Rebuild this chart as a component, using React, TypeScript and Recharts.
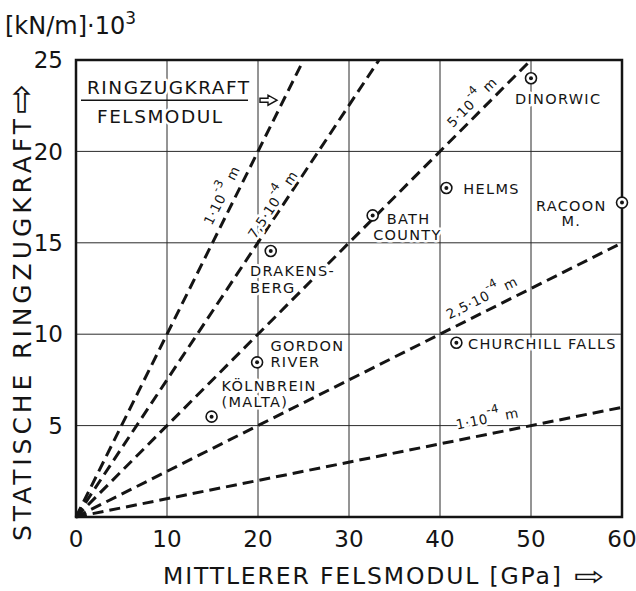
import React from 'react';
import {
  ComposedChart, XAxis, YAxis, CartesianGrid, Scatter, ReferenceLine,
  ReferenceArea, ReferenceDot, Label,
} from 'recharts';

// ---------- data ----------
const xTicks = [0, 10, 20, 30, 40, 50, 60];
const yTicks = [5, 10, 15, 20, 25];

// ratio lines (Ringzugkraft / Felsmodul), drawn from origin to their end point
const ratioMantissa = ['1·10', '7,5·10', '5·10', '2,5·10', '1·10'];
const ratioExponent = ['-3', '-4', '-4', '-4', '-4'];
const ratioEndX = [25, 33.3, 50, 60, 60];
const ratioEndY = [25, 25, 25, 15, 6];

// power stations
const stationNames = ['DINORWIC', 'HELMS', 'BATH COUNTY', 'DRAKENSBERG', 'GORDON RIVER', 'KÖLNBREIN', 'RACOON M.', 'CHURCHILL FALLS'];
const stationModulus = [50, 40.7, 32.6, 21.4, 19.9, 14.9, 60, 41.8];
const stationForce = [24, 18, 16.5, 14.55, 8.46, 5.49, 17.2, 9.53];

// ---------- layout (styles / positions of annotations) ----------
const FONT = "'DejaVu Sans', sans-serif";
const INK = '#141414';

const ratioLabelPos = [
  { x: 16.0, y: 17.6, angle: -63.5 },
  { x: 21.6, y: 17.1, angle: -56.4 },
  { x: 43.5, y: 22.7, angle: -45.1 },
  { x: 44.6, y: 12.0, angle: -26.7 },
  { x: 45.2, y: 5.4, angle: -11.3 },
];

type LabelLine = { text: string; dx: number; dy: number; anchor?: 'start' | 'middle' | 'end' };
const stationLabelLayout: Record<string, LabelLine[]> = {
  'DINORWIC': [{ text: 'DINORWIC', dx: -16, dy: 26 }],
  'HELMS': [{ text: 'HELMS', dx: 17, dy: 6 }],
  'BATH COUNTY': [{ text: 'BATH', dx: 14, dy: 8.5 }, { text: 'COUNTY', dx: 0.5, dy: 24.5 }],
  'DRAKENSBERG': [{ text: 'DRAKENS-', dx: -20.7, dy: 25 }, { text: 'BERG', dx: -20.7, dy: 41.7 }],
  'GORDON RIVER': [{ text: 'GORDON', dx: 13.4, dy: -11.6 }, { text: 'RIVER', dx: 13.4, dy: 4.4 }],
  'KÖLNBREIN': [{ text: 'KÖLNBREIN', dx: 10, dy: -26 }, { text: '(MALTA)', dx: 10, dy: -10 }],
  'RACOON M.': [{ text: 'RACOON', dx: -50.7, dy: 8.4, anchor: 'middle' }, { text: 'M.', dx: -50.7, dy: 23.4, anchor: 'middle' }],
  'CHURCHILL FALLS': [{ text: 'CHURCHILL FALLS', dx: 11.6, dy: 6.3 }],
};

const stations = stationNames.map((name, i) => ({ name, x: stationModulus[i], y: stationForce[i] }));

const maskText = { stroke: '#fff', strokeWidth: 5, paintOrder: 'stroke' as const, strokeLinejoin: 'round' as const };

const StationShape = (props: any) => {
  const { cx, cy, payload } = props;
  const lines = stationLabelLayout[payload.name] || [];
  return (
    <g>
      {lines.map((l, i) => (
        <text key={i} x={cx + l.dx} y={cy + l.dy} textAnchor={l.anchor || 'start'}
          fontFamily={FONT} fontSize={14.5} letterSpacing={1.3} fill={INK} {...maskText}>
          {l.text}
        </text>
      ))}
      <circle cx={cx} cy={cy} r={5.5} fill="#fff" stroke={INK} strokeWidth={1.6} />
      <circle cx={cx} cy={cy} r={2} fill={INK} />
    </g>
  );
};

const ratioLabelShape = (i: number) => (props: any) => {
  const { cx, cy } = props;
  const a = ratioLabelPos[i].angle;
  return (
    <g transform={`rotate(${a}, ${cx}, ${cy})`}>
      <text x={cx} y={cy + 5} textAnchor="middle" fontFamily={FONT} fontSize={13.5}
        letterSpacing={0.6} fill={INK} {...maskText}>
        {ratioMantissa[i]}
        <tspan dy={-9} fontSize={11.5}>{ratioExponent[i]}</tspan>
        <tspan dy={9} fontSize={13.5}>{'  m'}</tspan>
      </text>
    </g>
  );
};

const RatioBox = (props: any) => {
  const { cx, cy } = props;
  return (
    <g>
      <text x={cx + 6} y={cy - 6} fontFamily={FONT} fontSize={18.5} letterSpacing={1.5} fill={INK} {...maskText}>RINGZUGKRAFT</text>
      <line x1={cx} y1={cy} x2={cx + 167} y2={cy} stroke={INK} strokeWidth={1.4} />
      <text x={cx + 16} y={cy + 23} fontFamily={FONT} fontSize={18.5} letterSpacing={1.5} fill={INK} {...maskText}>FELSMODUL</text>
      <path d={`M ${cx + 179} ${cy - 2} L ${cx + 187} ${cy - 2} L ${cx + 187} ${cy - 5} L ${cx + 196} ${cy} L ${cx + 187} ${cy + 5} L ${cx + 187} ${cy + 2} L ${cx + 179} ${cy + 2} Z`}
        fill="#fff" stroke={INK} strokeWidth={1.4} />
    </g>
  );
};

const XTitle = (props: any) => {
  const { viewBox } = props;
  const y = viewBox.y + 67;
  return (
    <g>
      <text x={163} y={y} fontFamily={FONT} fontSize={23.5} fill={INK} textLength={398} lengthAdjust="spacing">
        MITTLERER FELSMODUL [GPa]
      </text>
      <text transform={`translate(574, ${y - 8}) scale(1.4, 1)`} x={0} y={0} dominantBaseline="central"
        fontFamily={FONT} fontSize={26} fill={INK}>⇨</text>
    </g>
  );
};

const YTitle = () => (
  <g>
    <text transform="rotate(-90, 31, 541)" x={31} y={541} fontFamily={FONT} fontSize={25} fill={INK}
      textLength={422} lengthAdjust="spacing">STATISCHE RINGZUGKRAFT</text>
    <text transform="rotate(-90, 33, 114)" x={33} y={114} fontFamily={FONT} fontSize={36} fill={INK}>⇨</text>
  </g>
);

const UnitTitle = () => (
  <text x={5} y={34} fontFamily={FONT} fontSize={24} fill={INK}>
    [kN/m]·10<tspan dy={-10} fontSize={17}>3</tspan>
  </text>
);

export default function App() {
  return (
    <div style={{ position: 'absolute', left: 0, top: 0, background: '#fff' }}>
      <ComposedChart width={636} height={591} margin={{ top: 60, right: 14, bottom: 44, left: 16 }}>
        <CartesianGrid stroke="#2a2a2a" strokeWidth={1} />
        <XAxis dataKey="x" type="number" domain={[0, 60]} ticks={xTicks} axisLine={false} tickLine={false}
          tickSize={0} tickMargin={14} height={30} interval={0}
          tick={{ fontFamily: FONT, fontSize: 23, fill: INK }}>
          <Label content={XTitle} />
        </XAxis>
        <YAxis dataKey="y" type="number" domain={[0, 25]} ticks={yTicks} axisLine={false} tickLine={false}
          tickSize={0} tickMargin={13} width={60} interval={0}
          tick={{ fontFamily: FONT, fontSize: 23, fill: INK }}>
          <Label content={YTitle} />
          <Label content={UnitTitle} />
        </YAxis>
        <ReferenceArea x1={0} x2={60} y1={0} y2={25} fill="none" fillOpacity={0} stroke={INK} strokeWidth={2.5} ifOverflow="visible" />
        {ratioEndX.map((ex, i) => (
          <ReferenceLine key={`l${i}`} segment={[{ x: 0, y: 0 }, { x: ex, y: ratioEndY[i] }]}
            stroke={INK} strokeWidth={3} strokeDasharray="11 6" ifOverflow="visible" />
        ))}
        {ratioLabelPos.map((p, i) => (
          <ReferenceDot key={`t${i}`} x={p.x} y={p.y} r={0} shape={ratioLabelShape(i)} ifOverflow="visible" />
        ))}
        <ReferenceDot x={0.55} y={22.8} r={0} shape={RatioBox} ifOverflow="visible" />
        <Scatter data={stations} dataKey="y" shape={StationShape} isAnimationActive={false} />
      </ComposedChart>
    </div>
  );
}
